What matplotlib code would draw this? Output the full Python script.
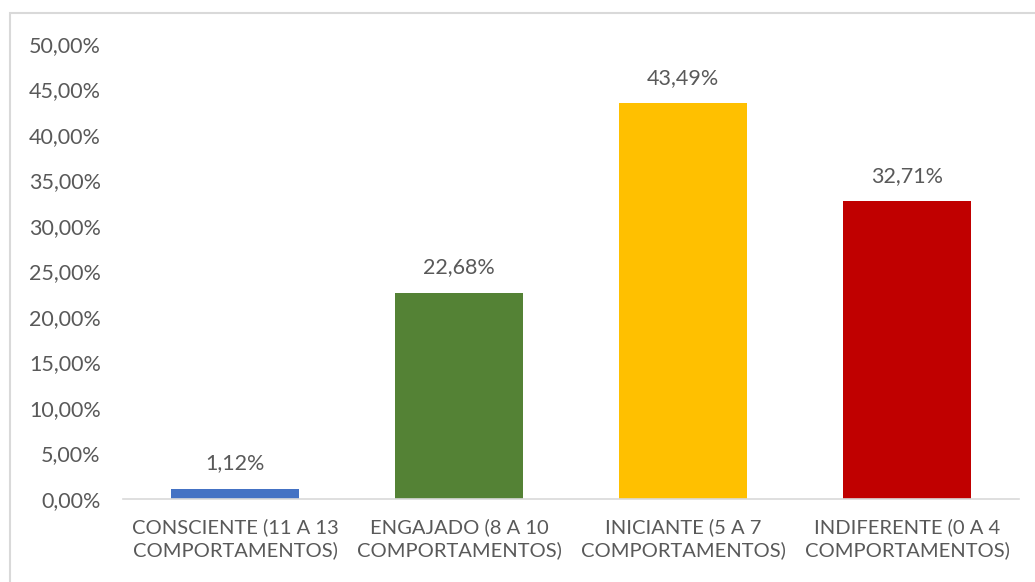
import matplotlib
matplotlib.use("Agg")
import matplotlib.pyplot as plt
from matplotlib.patches import Rectangle

categories = ["CONSCIENTE (11 A 13\nCOMPORTAMENTOS)", "ENGAJADO (8 A 10\nCOMPORTAMENTOS)",
              "INICIANTE (5 A 7\nCOMPORTAMENTOS)", "INDIFERENTE (0 A 4\nCOMPORTAMENTOS)"]
values = [1.12, 22.68, 43.49, 32.71]
colors = ["#4472C4", "#548235", "#FFC000", "#C00000"]
yticks = [0, 5, 10, 15, 20, 25, 30, 35, 40, 45, 50]

plt.rcParams['font.family'] = ['Lato', 'DejaVu Sans']
txt = "#595959"

fig = plt.figure(figsize=(10.35, 5.82), dpi=100)
fig.patches.append(Rectangle((10/1035, -0.1), 1.2, 1 - 13/582 + 0.1, transform=fig.transFigure,
                             fill=False, edgecolor="#D9D9D9", linewidth=1.5))
ax = fig.add_axes([123/1035, 1 - 499/582, 896/1035, (499 - 44)/582])
x = range(len(categories))
bars = ax.bar(x, values, width=0.57, color=colors)
for xi, v in zip(x, values):
    ax.text(xi, v + 1.7, f"{v:.2f}%".replace(".", ","), ha="center", va="bottom", fontsize=15.5, color=txt)
ax.set_xlim(-0.5, len(categories) - 0.5)
ax.set_ylim(0, 50)
ax.set_yticks(yticks)
ax.set_yticklabels([f"{t:.2f}%".replace(".", ",") for t in yticks], fontsize=15.5, color=txt)
ax.set_xticks(list(x))
ax.set_xticklabels(categories, fontsize=14.5, color=txt, linespacing=1.35)
for s in ["top", "right", "left"]:
    ax.spines[s].set_visible(False)
ax.spines["bottom"].set_color("#D9D9D9")
ax.spines["bottom"].set_linewidth(1.2)
ax.tick_params(axis="both", length=0)
ax.tick_params(axis="x", pad=14)
ax.tick_params(axis="y", pad=16)
fig.savefig("out.png", dpi=100)
